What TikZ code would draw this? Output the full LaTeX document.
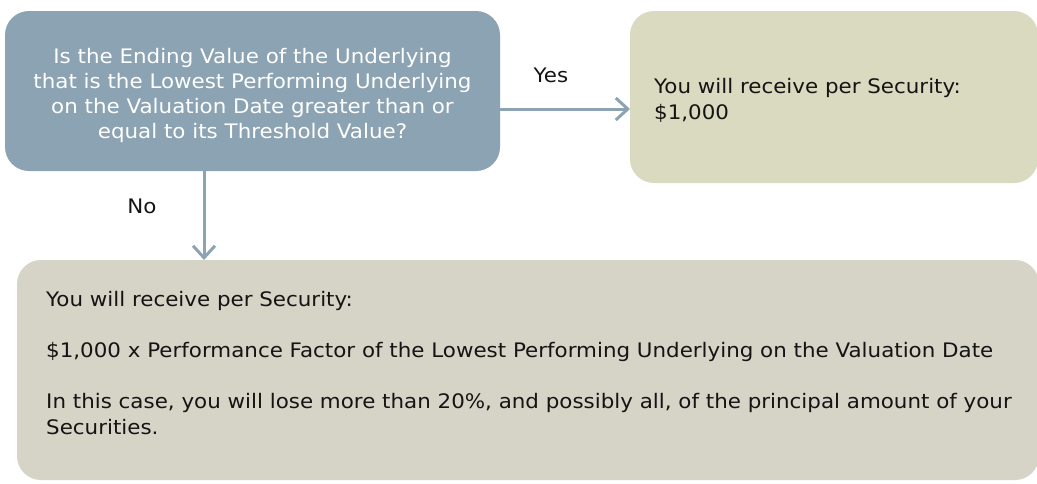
\documentclass[tikz,border=0pt]{standalone}
\usepackage{fontspec}
\setmainfont{DejaVu Sans}[FakeStretch=1.07]
\usetikzlibrary{arrows.meta}
\definecolor{qblue}{RGB}{139,163,178}
\definecolor{yesbox}{RGB}{218,218,192}
\definecolor{nobox}{RGB}{214,211,199}
\definecolor{txt}{RGB}{20,20,20}
\begin{document}
\begin{tikzpicture}[x=1pt,y=-1pt,
  box/.style={rounded corners=24pt, inner sep=0pt, outer sep=0pt, draw=none},
  arr/.style={draw=qblue, line width=3pt, -{Straight Barb[length=12pt,width=22pt]}},
  body/.style={font=\fontsize{20}{25.5}\selectfont, text=txt, inner sep=0pt, align=left, anchor=base west},
  lbl/.style={font=\fontsize{20}{25}\selectfont, text=txt, inner sep=0pt, anchor=base}]
\useasboundingbox (0,0) rectangle (1037,483);
\node[box, fill=qblue, minimum width=495pt, minimum height=160pt, anchor=north west] (q) at (5,11) {};
\node[font=\fontsize{20}{25}\selectfont, text=white, align=center, inner sep=0pt, anchor=base] (qt) at (252.5,138)
  {Is the Ending Value of the Underlying\\that is the Lowest Performing Underlying\\on the Valuation Date greater than or\\equal to its Threshold Value?};
\node[box, fill=yesbox, minimum width=408pt, minimum height=172pt, anchor=north west] (r) at (630,11) {};
\node[box, fill=nobox, minimum width=1022pt, minimum height=220pt, anchor=north west] (b) at (17,260) {};
\node[body] (rt) at (654,119) {You will receive per Security:\\\$1,000};
\node[body] (bt) at (46,434) {You will receive per Security:\\[25.5pt]\$1,000 x Performance Factor of the Lowest Performing Underlying on the Valuation Date\\[25.5pt]In this case, you will lose more than 20\%, and possibly all, of the principal amount of your\\Securities.};
\coordinate (ys) at ([yshift=-18pt]q.east);
\coordinate (nx) at (204,0);
\draw[arr] (ys) -- (ys -| r.west);
\draw[arr] (q.south -| nx) -- (b.north -| nx);
\node[lbl] (yes) at (551,82) {Yes};
\node[lbl] (no) at (142,213) {No};
\end{tikzpicture}
\end{document}
